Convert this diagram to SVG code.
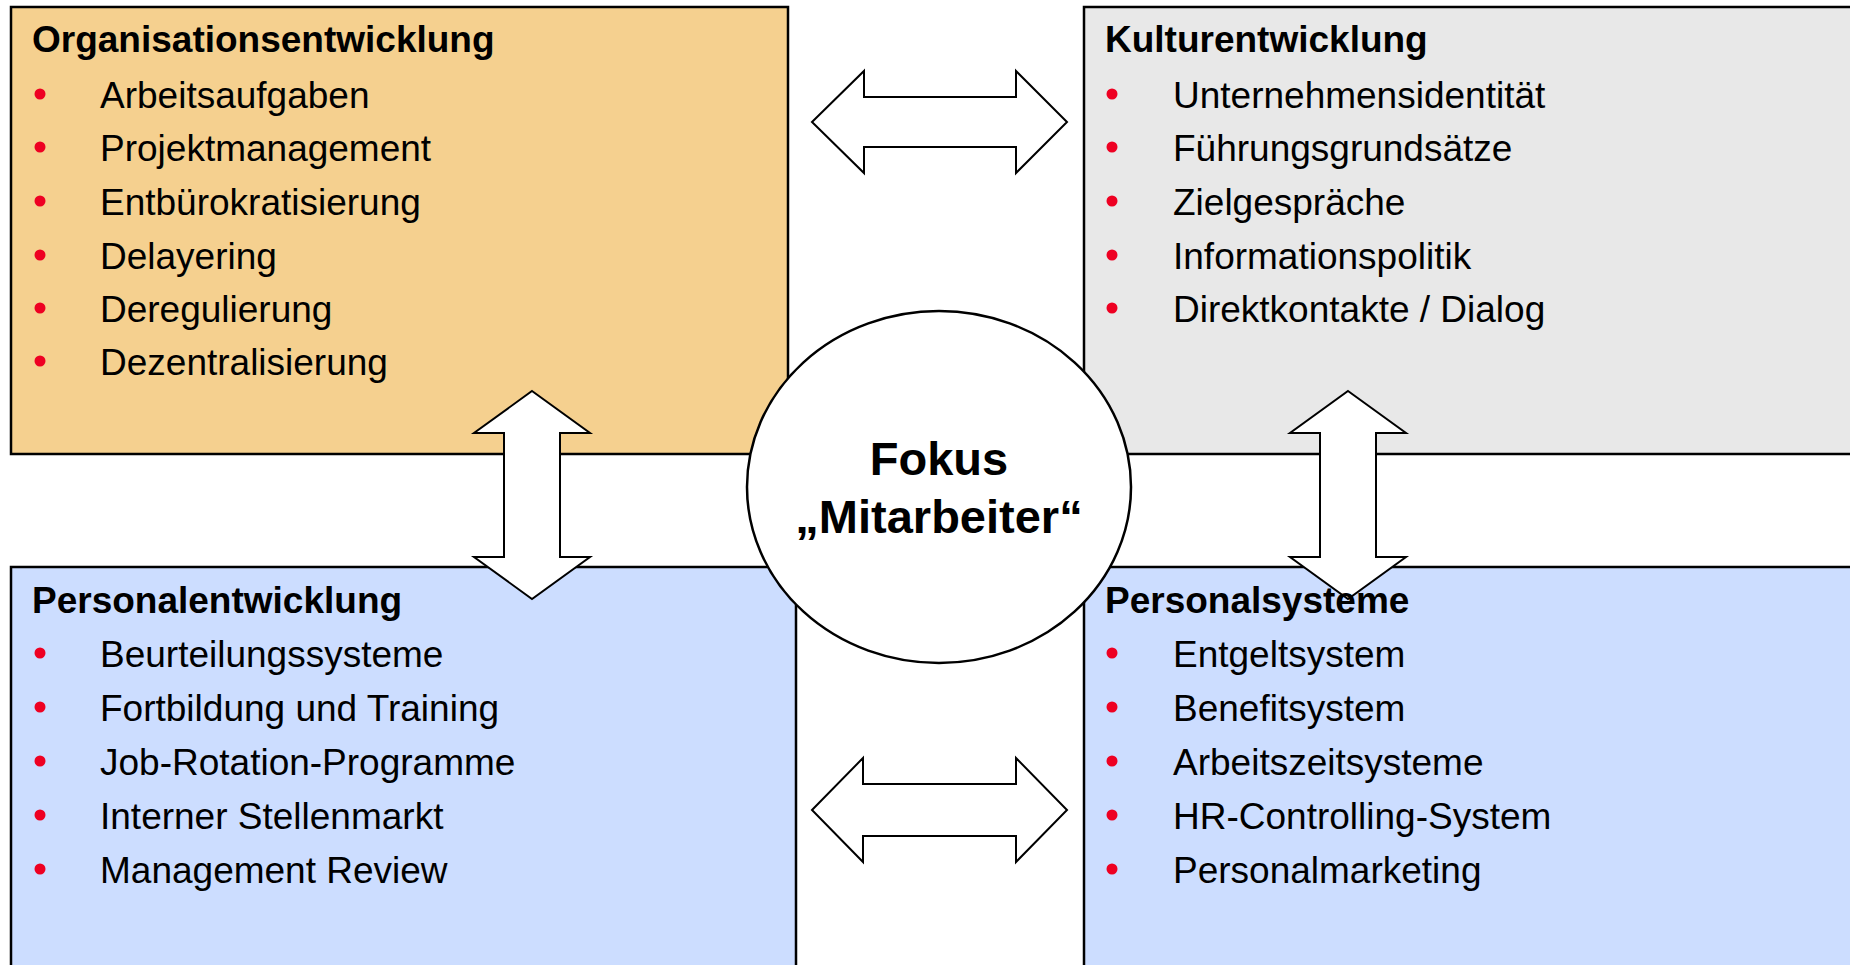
<svg xmlns="http://www.w3.org/2000/svg" width="1850" height="965" viewBox="0 0 1850 965">
  <style>
    .box { stroke: #000; stroke-width: 2.5; }
    .org { fill: #F5D08F; }
    .kultur { fill: #E8E8E8; }
    .pers { fill: #CCDDFF; }
    .title { font-family: "Liberation Sans", Arial, sans-serif; font-size: 37px; font-weight: bold; fill: #000; }
    .item { font-family: "Liberation Sans", Arial, sans-serif; font-size: 37px; fill: #000; }
    .dot { fill: #EE0022; }
    .arrow { fill: #fff; stroke: #000; stroke-width: 2; stroke-linejoin: miter; }
    .focus { font-family: "Liberation Sans", Arial, sans-serif; font-size: 47px; font-weight: bold; fill: #000; text-anchor: middle; }
  </style>

  <rect width="1850" height="965" fill="#fff"/>

  <!-- quadrant panels -->
  <g id="organisationsentwicklung-box">
    <rect class="box org" x="11" y="7" width="777" height="447"/>
  </g>
  <g id="kulturentwicklung-box">
    <rect class="box kultur" x="1084" y="7" width="790" height="447"/>
  </g>
  <g id="personalentwicklung-box">
    <rect class="box pers" x="11" y="567" width="785" height="420"/>
  </g>
  <g id="personalsysteme-box">
    <rect class="box pers" x="1084" y="567" width="790" height="420"/>
  </g>

  <!-- block arrows between the quadrants -->
  <g id="connectors">
    <path class="arrow" d="M812,122 L864,71 L864,97 L1016,97 L1016,71 L1067,122 L1016,173 L1016,147 L864,147 L864,173 Z"/>
    <path class="arrow" d="M812,810 L863,758 L863,784 L1016,784 L1016,758 L1067,810 L1016,862 L1016,836 L863,836 L863,862 Z"/>
    <path class="arrow" d="M532,391 L590,433 L560,433 L560,557 L590,557 L532,599 L474,557 L504,557 L504,433 L474,433 Z"/>
    <path class="arrow" d="M1348,391 L1406,433 L1376,433 L1376,557 L1406,557 L1348,599 L1290,557 L1320,557 L1320,433 L1290,433 Z"/>
  </g>

  <!-- centre -->
  <g id="fokus-mitarbeiter">
    <ellipse cx="939" cy="487" rx="192" ry="176" fill="#fff" stroke="#000" stroke-width="2.5"/>
    <text class="focus" x="939" y="475">Fokus</text>
    <text class="focus" x="939" y="533">„Mitarbeiter“</text>
  </g>

  <!-- panel contents -->
  <g id="organisationsentwicklung-text">
    <text class="title" x="32" y="52">Organisationsentwicklung</text>
    <circle class="dot" cx="40" cy="94" r="5.5"/>
    <circle class="dot" cx="40" cy="147" r="5.5"/>
    <circle class="dot" cx="40" cy="201" r="5.5"/>
    <circle class="dot" cx="40" cy="255" r="5.5"/>
    <circle class="dot" cx="40" cy="308" r="5.5"/>
    <circle class="dot" cx="40" cy="361" r="5.5"/>
    <text class="item" x="100" y="108">Arbeitsaufgaben</text>
    <text class="item" x="100" y="161">Projektmanagement</text>
    <text class="item" x="100" y="215">Entbürokratisierung</text>
    <text class="item" x="100" y="269">Delayering</text>
    <text class="item" x="100" y="322">Deregulierung</text>
    <text class="item" x="100" y="375">Dezentralisierung</text>
  </g>

  <g id="kulturentwicklung-text">
    <text class="title" x="1105" y="52">Kulturentwicklung</text>
    <circle class="dot" cx="1112" cy="94" r="5.5"/>
    <circle class="dot" cx="1112" cy="147" r="5.5"/>
    <circle class="dot" cx="1112" cy="201" r="5.5"/>
    <circle class="dot" cx="1112" cy="255" r="5.5"/>
    <circle class="dot" cx="1112" cy="308" r="5.5"/>
    <text class="item" x="1173" y="108">Unternehmensidentität</text>
    <text class="item" x="1173" y="161">Führungsgrundsätze</text>
    <text class="item" x="1173" y="215">Zielgespräche</text>
    <text class="item" x="1173" y="269">Informationspolitik</text>
    <text class="item" x="1173" y="322">Direktkontakte / Dialog</text>
  </g>

  <g id="personalentwicklung-text">
    <text class="title" x="32" y="613">Personalentwicklung</text>
    <circle class="dot" cx="40" cy="653" r="5.5"/>
    <circle class="dot" cx="40" cy="707" r="5.5"/>
    <circle class="dot" cx="40" cy="761" r="5.5"/>
    <circle class="dot" cx="40" cy="815" r="5.5"/>
    <circle class="dot" cx="40" cy="869" r="5.5"/>
    <text class="item" x="100" y="667">Beurteilungssysteme</text>
    <text class="item" x="100" y="721">Fortbildung und Training</text>
    <text class="item" x="100" y="775">Job-Rotation-Programme</text>
    <text class="item" x="100" y="829">Interner Stellenmarkt</text>
    <text class="item" x="100" y="883">Management Review</text>
  </g>

  <g id="personalsysteme-text">
    <text class="title" x="1105" y="613">Personalsysteme</text>
    <circle class="dot" cx="1112" cy="653" r="5.5"/>
    <circle class="dot" cx="1112" cy="707" r="5.5"/>
    <circle class="dot" cx="1112" cy="761" r="5.5"/>
    <circle class="dot" cx="1112" cy="815" r="5.5"/>
    <circle class="dot" cx="1112" cy="869" r="5.5"/>
    <text class="item" x="1173" y="667">Entgeltsystem</text>
    <text class="item" x="1173" y="721">Benefitsystem</text>
    <text class="item" x="1173" y="775">Arbeitszeitsysteme</text>
    <text class="item" x="1173" y="829">HR-Controlling-System</text>
    <text class="item" x="1173" y="883">Personalmarketing</text>
  </g>
</svg>
